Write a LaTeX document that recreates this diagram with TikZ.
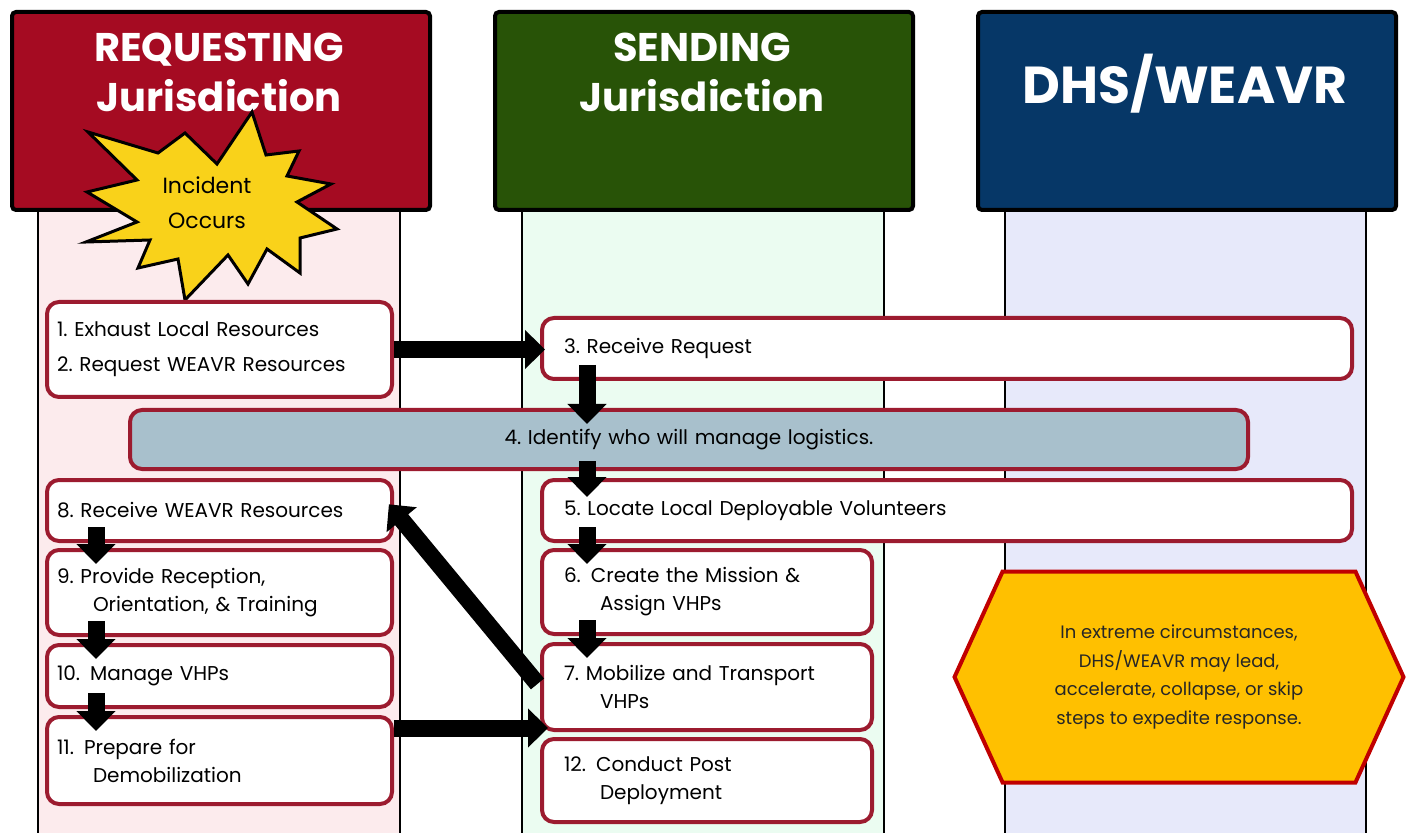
\documentclass[tikz,border=0pt]{standalone}
\usepackage{fontspec}
\setmainfont{Poppins}
\usetikzlibrary{arrows.meta, shapes.symbols}
\definecolor{reqred}{HTML}{A50B22}
\definecolor{sendgreen}{HTML}{285307}
\definecolor{dhsblue}{HTML}{063767}
\definecolor{reqlane}{HTML}{FCEBED}
\definecolor{sendlane}{HTML}{EBFCF1}
\definecolor{dhslane}{HTML}{E7E9FA}
\definecolor{boxred}{HTML}{9C1B2F}
\definecolor{logblue}{HTML}{A8C0CC}
\definecolor{noteyellow}{HTML}{FFC000}
\definecolor{notered}{HTML}{C00000}
\definecolor{burst}{HTML}{F9D21A}
\newcommand{\ind}{\hspace*{18pt}}

\begin{document}
\begin{tikzpicture}[x=0.5pt,y=-0.5pt,>={Triangle[width=19pt,length=10pt]},
    font=\fontsize{10}{14}\selectfont,
    lane/.style={draw=black,line width=0.7pt},
    hdr/.style={draw=black,line width=2pt,rounded corners=2pt,minimum width=209pt,minimum height=99pt,anchor=north west},
    title/.style={text=white,font=\bfseries\fontsize{20}{25}\selectfont,align=center},
    stepbox/.style={draw=boxred,fill=white,line width=2pt,rounded corners=6pt,anchor=north west,align=left,inner xsep=11pt},
    lbox/.style={stepbox,inner xsep=5pt,text width=162.5pt},
    blk/.style={->,line width=8.5pt},
    dn/.style={blk,shorten <=-8pt,shorten >=-8pt}]
    \useasboundingbox (0,0) rectangle (1406,833);
    \draw[lane,fill=reqlane] (38,200) rectangle (400,850);
    \draw[lane,fill=sendlane] (522,200) rectangle (884,850);
    \draw[lane,fill=dhslane] (1005,200) rectangle (1366,850);
    \node[hdr,fill=reqred] (hreq) at (10,10) {};
    \node[hdr,fill=sendgreen] (hsend) at (493,10) {};
    \node[hdr,fill=dhsblue] (hdhs) at (976,10) {};
    \node[title] (treq) at (219,72) {REQUESTING\\Jurisdiction};
    \node[title] (tsend) at (702,72) {SENDING\\Jurisdiction};
    \node[title,font=\bfseries\fontsize{26}{30}\selectfont] (tdhs) at (1185,84) {DHS/WEAVR};
    \draw[fill=burst,line width=1.5pt] (252,112) -- (266,155) -- (299,151) -- (287,176) -- (331,184)
        -- (297,202) -- (337,229) -- (300,238) -- (300,273) -- (267,249) -- (248,284) -- (228,255)
        -- (185,300) -- (178,259) -- (138,268) -- (150,240) -- (86,242) -- (137,222) -- (87,192)
        -- (137,180) -- (88,132) -- (158,153) -- (185,133) -- (217,164) -- cycle;
    \node[font=\fontsize{11}{17.5}\selectfont,align=center] (inc) at (207,203) {Incident\\Occurs};
    \node[lbox,minimum height=47.5pt,font=\fontsize{10}{17.5}\selectfont] (s1) at (45,300) {1.\ Exhaust Local Resources\\2.\ Request WEAVR Resources};
    \node[stepbox,text width=383pt,minimum height=30.5pt] (s3) at (540,316) {3.\ Receive Request};
    \node[stepbox,fill=logblue,text width=537pt,align=center,minimum height=29.5pt] (s4) at (128,408) {4.\ Identify who will manage logistics.};
    \node[stepbox,text width=383pt,minimum height=30.5pt] (s5) at (540,478) {5.\ Locate Local Deployable Volunteers};
    \node[stepbox,text width=143pt,minimum height=42pt] (s6) at (540,548) {6. Create the Mission \&\\\ind Assign VHPs};
    \node[stepbox,text width=143pt,minimum height=43pt] (s7) at (540,642) {7.\ Mobilize and Transport\\\ind VHPs};
    \node[stepbox,text width=143pt,minimum height=41.5pt] (s12) at (540,737) {12. Conduct Post\\\ind Deployment};
    \node[lbox,minimum height=30.5pt] (s8) at (45,478) {8.\ Receive WEAVR Resources};
    \node[lbox,minimum height=42.5pt] (s9) at (45,548) {9.\ Provide Reception,\\\ind Orientation, \& Training};
    \node[lbox,minimum height=31pt] (s10) at (45,643) {10. Manage VHPs};
    \node[lbox,minimum height=43.5pt] (s11) at (45,715) {11. Prepare for\\\ind Demobilization};
    \node[shape=signal,signal to=west and east,signal pointer angle=131,fill=noteyellow,draw=notered,line width=2pt,
        minimum width=224.5pt,minimum height=105.5pt,align=center,font=\fontsize{9}{14.25}\selectfont,text=black!85] (note) at (1179,677)
        {In extreme circumstances,\\DHS/WEAVR may lead,\\accelerate, collapse, or skip\\steps to expedite response.};
    \coordinate (cm) at (587,0);
    \coordinate (cl) at (96,0);
    \coordinate (cg) at (0,728);
    \draw[blk,shorten >=-2.5pt] (s1.east) -- (s1.east -| s3.west);
    \draw[dn] (s3.south -| cm) -- (s4.north -| cm);
    \draw[dn,shorten <=-5pt,shorten >=-9.5pt] (s4.south -| cm) -- (s5.north -| cm);
    \draw[dn] (s5.south -| cm) -- (s6.north -| cm);
    \draw[dn] (s6.south -| cm) -- (s7.north -| cm);
    \draw[dn] (s8.south -| cl) -- (s9.north -| cl);
    \draw[dn] (s9.south -| cl) -- (s10.north -| cl);
    \draw[dn] (s10.south -| cl) -- (s11.north -| cl);
    \draw[blk,shorten <=2pt,shorten >=-4pt] (s7.west) -- (s8.east);
    \draw[blk,shorten >=-4pt] (s11.east |- cg) -- (s7.west |- cg);
\end{tikzpicture}
\end{document}
